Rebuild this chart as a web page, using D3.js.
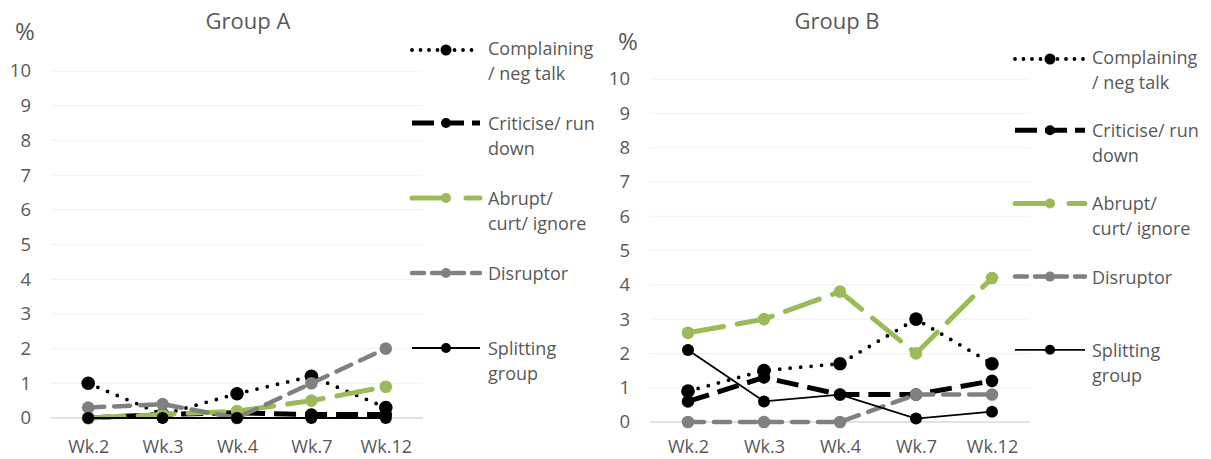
<!DOCTYPE html>
<html><head><meta charset="utf-8">
<script src="https://cdn.jsdelivr.net/npm/d3@7"></script>
<style>
html,body{margin:0;padding:0;background:#fff;}
svg text{font-family:"Open Sans",Lato,sans-serif;fill:#595959;}
</style></head>
<body><svg id="c" width="1211" height="459"></svg>
<script>
const weeks = ["Wk.2","Wk.3","Wk.4","Wk.7","Wk.12"];
const yTicks = [0,1,2,3,4,5,6,7,8,9,10];
const seriesNames = ["Complaining / neg talk","Criticise/ run down","Abrupt/ curt/ ignore","Disruptor","Splitting group"];
const legendLines = [["Complaining","/ neg talk"],["Criticise/ run","down"],["Abrupt/","curt/ ignore"],["Disruptor"],["Splitting","group"]];
// Group A values (%)
const aComplaining = [1.0, 0.1, 0.7, 1.2, 0.3];
const aCriticise   = [0.0, 0.1, 0.15, 0.1, 0.1];
const aAbrupt      = [0.0, 0.1, 0.2, 0.5, 0.9];
const aDisruptor   = [0.3, 0.4, 0.0, 1.0, 2.0];
const aSplitting   = [0.0, 0.0, 0.0, 0.0, 0.0];
// Group B values (%)
const bComplaining = [0.9, 1.5, 1.7, 3.0, 1.7];
const bCriticise   = [0.6, 1.3, 0.8, 0.8, 1.2];
const bAbrupt      = [2.6, 3.0, 3.8, 2.0, 4.2];
const bDisruptor   = [0.0, 0.0, 0.0, 0.8, 0.8];
const bSplitting   = [2.1, 0.6, 0.8, 0.1, 0.3];

const styles = [
  {color:"#000", width:3.8, dash:"0 10.5", cap:"round", r:6.8, legDash:"0 8.5"},
  {color:"#000", width:5, dash:"22 9", cap:"butt", r:6.3, legDash:"22 8"},
  {color:"#9bbb59", width:5, dash:"36 14", cap:"round", r:6.3, legDash:"34 20"},
  {color:"#808080", width:4.5, dash:"16 10", cap:"round", r:6.3, legDash:"12 8"},
  {color:"#000", width:1.8, dash:null, cap:"butt", r:6, legDash:null}
];

const svg = d3.select("#c");
const FONT = "'Open Sans',Lato,sans-serif";

function panel(cfg){
  const g = svg.append("g");
  const x = d3.scalePoint().domain(weeks).range([cfg.x0, cfg.x1]).padding(0.5);
  const y = d3.scaleLinear().domain([0,10]).range([cfg.yb, cfg.yt]);
  // gridlines
  g.append("g").selectAll("line").data(yTicks.filter(d=>d>0)).join("line")
    .attr("x1",cfg.x0).attr("x2",cfg.x1).attr("y1",d=>y(d)).attr("y2",d=>y(d))
    .attr("stroke","#f0f0f0").attr("stroke-width",1);
  g.append("line").attr("x1",cfg.x0).attr("x2",cfg.x1).attr("y1",y(0)).attr("y2",y(0))
    .attr("stroke","#d9d9d9").attr("stroke-width",1.5);
  // y axis labels
  const ya = g.append("g").attr("transform",`translate(${cfg.x0 - 20},0)`)
    .call(d3.axisLeft(y).tickValues(yTicks).tickSize(0).tickPadding(0));
  ya.select(".domain").remove();
  ya.selectAll("text").style("font-size","18.5px").style("font-family",FONT).attr("fill","#595959");
  // x axis labels
  const xa = g.append("g").attr("transform",`translate(0,${cfg.yb + cfg.xlabOff})`)
    .call(d3.axisBottom(x).tickSize(0).tickPadding(0));
  xa.select(".domain").remove();
  xa.selectAll("text").style("font-size","18px").style("font-family",FONT).attr("fill","#595959");
  // title & unit
  g.append("text").attr("x",cfg.titleX).attr("y",29).attr("text-anchor","middle").style("font-size","22px").text(cfg.title);
  g.append("text").attr("x",cfg.pctX).attr("y",cfg.pctY).attr("text-anchor","middle").style("font-size","24px").text("%");
  // series
  const line = d3.line().x((d,i)=>x(weeks[i])).y(d=>y(d));
  cfg.data.forEach((vals,k)=>{
    const s = styles[k];
    g.append("path").datum(vals).attr("d",line).attr("fill","none")
      .attr("stroke",s.color).attr("stroke-width",s.width)
      .attr("stroke-dasharray",s.dash).attr("stroke-linecap",s.cap);
    g.append("g").selectAll("circle").data(vals).join("circle")
      .attr("cx",(d,i)=>x(weeks[i])).attr("cy",d=>y(d)).attr("r",s.r).attr("fill",s.color);
  });
  // legend
  const lg = g.append("g");
  legendLines.forEach((lines,k)=>{
    const s = styles[k];
    const ly = cfg.legY0 + k*cfg.legDy;
    const sy = ly + (k===0?2:0);
    lg.append("line").attr("x1",cfg.legX0).attr("x2",cfg.legX1).attr("y1",sy).attr("y2",sy)
      .attr("stroke",s.color).attr("stroke-width",s.width)
      .attr("stroke-dasharray",s.legDash).attr("stroke-linecap",s.cap);
    lg.append("circle").attr("cx",(cfg.legX0+cfg.legX1)/2).attr("cy",sy).attr("r",k===0?5.5:5).attr("fill",s.color);
    const t = lg.append("text").attr("x",cfg.legTX).attr("y",ly).style("font-size","18px").attr("dominant-baseline","central");
    lines.forEach((ln,j)=>{
      t.append("tspan").attr("x",cfg.legTX).attr("dy",j===0?0:25).text(ln);
    });
  });
}

panel({title:"Group A", x0:51, x1:423, yb:418, yt:71, titleX:248, pctX:25, pctY:40, xlabOff:22,
  data:[aComplaining,aCriticise,aAbrupt,aDisruptor,aSplitting],
  legY0:48, legDy:75, legX0:412, legX1:480, legTX:488});
panel({title:"Group B", x0:650, x1:1030, yb:422, yt:79, titleX:837, pctX:628, pctY:50, xlabOff:18.5,
  data:[bComplaining,bCriticise,bAbrupt,bDisruptor,bSplitting],
  legY0:57, legDy:73.2, legX0:1015, legX1:1085, legTX:1092});
</script></body></html>
